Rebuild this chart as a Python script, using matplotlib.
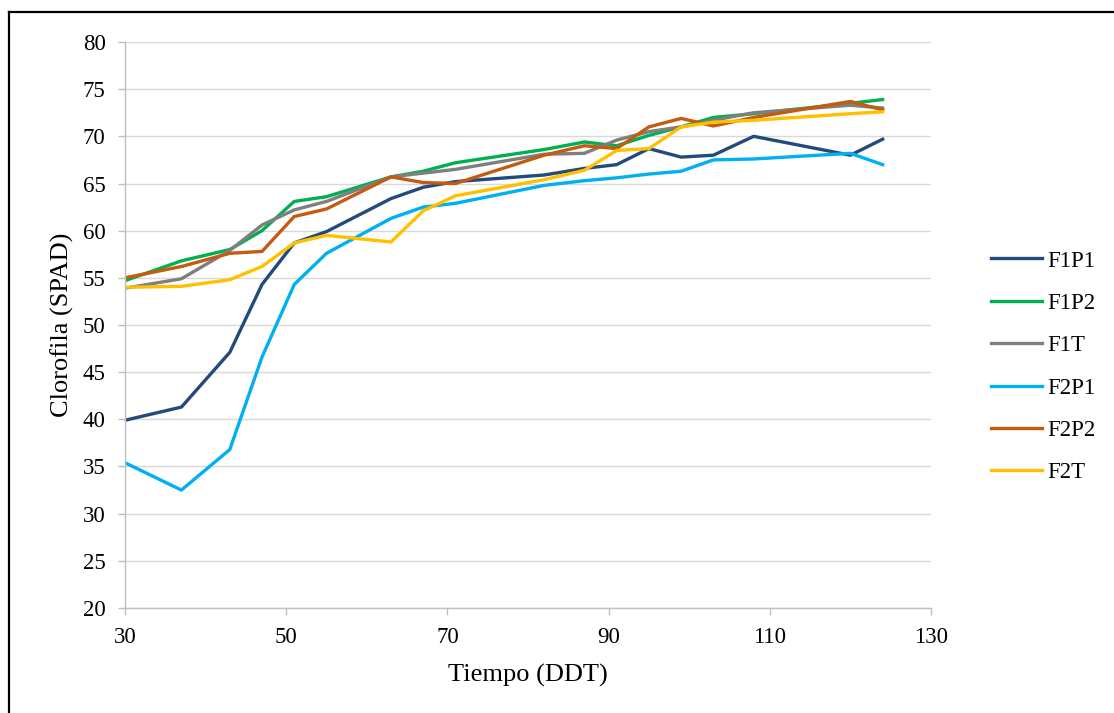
import matplotlib
matplotlib.use("Agg")
import matplotlib.pyplot as plt
from matplotlib.lines import Line2D

plt.rcParams["font.family"] = ["Liberation Serif", "DejaVu Serif"]

# Días después del trasplante (DDT)
ddt = [30, 37, 43, 47, 51, 55, 63, 67, 71, 82, 87, 91, 95, 99, 103, 108, 120, 124]

f1p1 = [39.9, 41.3, 47.1, 54.3, 58.7, 59.9, 63.4, 64.6, 65.2, 65.9, 66.6, 67.0, 68.7, 67.8, 68.0, 70.0, 68.0, 69.7]
f1p2 = [54.7, 56.8, 58.0, 60.0, 63.1, 63.6, 65.7, 66.3, 67.2, 68.6, 69.4, 69.0, 70.1, 71.0, 72.0, 72.4, 73.5, 73.9]
f1t = [53.9, 54.9, 57.9, 60.6, 62.2, 63.1, 65.7, 66.1, 66.5, 68.1, 68.2, 69.6, 70.5, 71.0, 71.7, 72.5, 73.3, 73.0]
f2p1 = [35.4, 32.5, 36.8, 46.6, 54.3, 57.6, 61.3, 62.5, 62.9, 64.8, 65.3, 65.6, 66.0, 66.3, 67.5, 67.6, 68.2, 67.0]
f2p2 = [55.0, 56.2, 57.6, 57.8, 61.5, 62.3, 65.7, 65.1, 65.0, 68.0, 69.0, 68.7, 71.0, 71.9, 71.1, 72.0, 73.7, 72.8]
f2t = [54.0, 54.1, 54.8, 56.2, 58.7, 59.5, 58.8, 62.1, 63.7, 65.4, 66.4, 68.5, 68.7, 71.0, 71.5, 71.7, 72.4, 72.6]

series = [
    ("F1P1", f1p1, "#234A7C"),
    ("F1P2", f1p2, "#00B050"),
    ("F1T", f1t, "#7F7F7F"),
    ("F2P1", f2p1, "#00B0F0"),
    ("F2P2", f2p2, "#C55A11"),
    ("F2T", f2t, "#FFC000"),
]

W, H = 1114, 713
fig = plt.figure(figsize=(W / 100, H / 100), dpi=100)
ax = fig.add_axes([125 / W, 1 - 608 / H, (931 - 125) / W, (608 - 42) / H])

for name, vals, col in series:
    ax.plot(ddt, vals, color=col, lw=2.4, label=name)

ax.set_xlim(30, 130)
ax.set_ylim(20, 80)
ax.set_xticks(range(30, 131, 20))
ax.set_yticks(range(20, 81, 5))
ax.grid(axis="y", color="#D9D9D9", lw=1.0)
ax.set_axisbelow(True)
for s in ["top", "right"]:
    ax.spines[s].set_visible(False)
for s in ["left", "bottom"]:
    ax.spines[s].set_color("#BFBFBF")
    ax.spines[s].set_linewidth(1.0)
ax.tick_params(axis="both", colors="#BFBFBF", length=5, width=1.0,
               labelcolor="black", labelsize=16.5)
ax.tick_params(axis="y", pad=9)
ax.tick_params(axis="x", pad=9)

ax.set_xlabel("Tiempo (DDT)", fontsize=19, labelpad=11)
ax.set_ylabel("Clorofila (SPAD)", fontsize=19, labelpad=6)

leg = ax.legend(loc="center left", bbox_to_anchor=(1.074, 0.426), frameon=False,
                fontsize=16.5, handlelength=2.23, handletextpad=0.26,
                labelspacing=0.93, borderaxespad=0, borderpad=0)

# Frame around the figure (left and top edges)
fig.add_artist(Line2D([9 / W, 9 / W], [0, 1 - 12 / H], transform=fig.transFigure,
                      color="black", lw=1.6))
fig.add_artist(Line2D([9 / W, 1], [1 - 12 / H, 1 - 12 / H], transform=fig.transFigure,
                      color="black", lw=1.6))

fig.savefig("out.png", dpi=100)
